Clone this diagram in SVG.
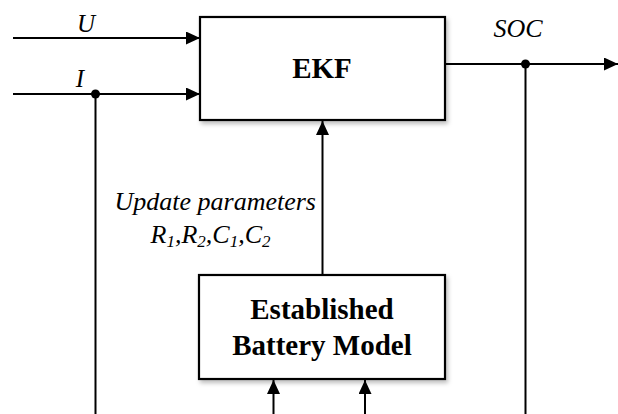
<svg xmlns="http://www.w3.org/2000/svg" width="618" height="414" viewBox="0 0 618 414">
<style>
.box{fill:#fff;stroke:#000;stroke-width:2.2;filter:url(#sh)}
.ln{stroke:#000;stroke-width:2;fill:none}
.it{font-family:"Liberation Serif","Times New Roman",serif;font-style:italic;font-size:25px;fill:#000}
.it26{font-size:26px}
.sub{font-size:17px}
.bd{font-family:"Liberation Serif","Times New Roman",serif;font-weight:bold;font-size:29px;fill:#000;text-anchor:middle}
</style>
<defs>
<marker id="ah" viewBox="0 0 14 13" refX="14" refY="6.5" markerWidth="14" markerHeight="13" markerUnits="userSpaceOnUse" orient="auto"><path d="M0,0L14,6.5L0,13z" fill="#000"/></marker>
<filter id="sh" x="-5%" y="-5%" width="115%" height="120%"><feDropShadow dx="2" dy="3" stdDeviation="2" flood-color="#000" flood-opacity="0.25"/></filter>
</defs>
<rect width="618" height="414" fill="#fff"/>
<g id="connectors">
<line class="ln" x1="13" y1="38" x2="200" y2="38" marker-end="url(#ah)"/>
<line class="ln" x1="13" y1="94" x2="200" y2="94" marker-end="url(#ah)"/>
<line class="ln" x1="95.5" y1="94" x2="95.5" y2="414"/>
<circle cx="95.5" cy="94" r="4.5" fill="#000"/>
<line class="ln" x1="445" y1="64" x2="618" y2="64" marker-end="url(#ah)"/>
<line class="ln" x1="525.5" y1="64" x2="525.5" y2="414"/>
<circle cx="525.5" cy="64" r="4.5" fill="#000"/>
<line class="ln" x1="322.5" y1="275" x2="322.5" y2="121" marker-end="url(#ah)"/>
<line class="ln" x1="273.5" y1="414" x2="273.5" y2="380" marker-end="url(#ah)"/>
<line class="ln" x1="365" y1="414" x2="365" y2="380" marker-end="url(#ah)"/>
<text class="it" x="86" y="32" text-anchor="middle">U</text>
<text class="it" x="80" y="87" text-anchor="middle">I</text>
<text class="it it26" x="518" y="37" text-anchor="middle">SOC</text>
<text class="it it26" x="316" y="210" text-anchor="end">Update parameters</text>
<text class="it it26" x="210.5" y="243" text-anchor="middle">R<tspan class="sub" dy="4">1</tspan><tspan dy="-4">,R</tspan><tspan class="sub" dy="4">2</tspan><tspan dy="-4">,C</tspan><tspan class="sub" dy="4">1</tspan><tspan dy="-4">,C</tspan><tspan class="sub" dy="4">2</tspan></text>
</g>
<g id="ekf">
<rect class="box" x="200" y="17" width="245" height="103"/>
<text class="bd" x="322" y="78">EKF</text>
</g>
<g id="battery">
<rect class="box" x="199" y="275" width="246" height="104"/>
<text class="bd" x="322" y="319">Established</text>
<text class="bd" x="322" y="355">Battery Model</text>
</g>
</svg>
